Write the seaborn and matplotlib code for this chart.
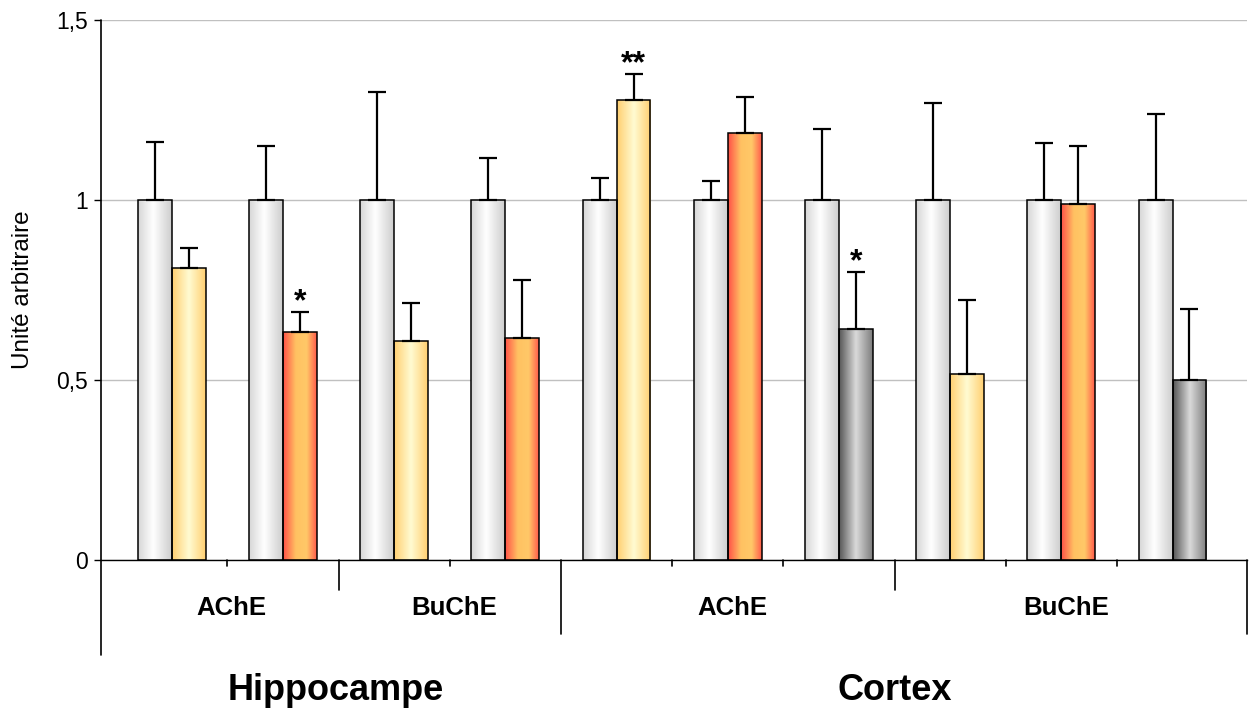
import numpy as np
import pandas as pd
import matplotlib
matplotlib.use('Agg')
import matplotlib.pyplot as plt
from matplotlib.colors import LinearSegmentedColormap
import seaborn as sns

# ------------------------------
# Données
# ------------------------------
regions = ['Hippocampe'] * 4 + ['Cortex'] * 6
enzymes = ['AChE', 'AChE', 'BuChE', 'BuChE',
           'AChE', 'AChE', 'AChE', 'BuChE', 'BuChE', 'BuChE']
traitements = ['jaune', 'rouge', 'jaune', 'rouge',
               'jaune', 'rouge', 'gris', 'jaune', 'rouge', 'gris']
temoin_moy = [1, 1, 1, 1, 1, 1, 1, 1, 1, 1]
temoin_err = [0.16, 0.15, 0.30, 0.117, 0.061, 0.053, 0.197, 0.269, 0.158, 0.239]
traite_moy = [0.811, 0.633, 0.608, 0.617, 1.278, 1.186, 0.642, 0.517, 0.989, 0.50]
traite_err = [0.056, 0.056, 0.106, 0.161, 0.072, 0.10, 0.158, 0.205, 0.161, 0.197]
etoiles = ['', '*', '', '', '**', '', '*', '', '', '']

paires = [f'p{i}' for i in range(len(regions))]
df = pd.DataFrame({
    'paire': paires * 2,
    'groupe': ['Témoin'] * len(paires) + ['Traité'] * len(paires),
    'valeur': temoin_moy + traite_moy,
})

# dégradés façon Excel
CMAPS = {
    'temoin': LinearSegmentedColormap.from_list(
        't', [(0, '#d6d6d6'), (0.45, '#ffffff'), (1, '#cdcdcd')]),
    'jaune': LinearSegmentedColormap.from_list(
        'j', [(0, '#ffcf70'), (0.5, '#fffbd2'), (1, '#ffcf70')]),
    'rouge': LinearSegmentedColormap.from_list(
        'r', [(0, '#ff5048'), (0.38, '#ffc262'), (0.7, '#ffc868'), (1, '#ff5a4a')]),
    'gris': LinearSegmentedColormap.from_list(
        'g', [(0, '#555555'), (0.5, '#dadada'), (1, '#7c7c7c')]),
}

sns.set_style('white')
plt.rcParams['font.family'] = ['Liberation Sans', 'DejaVu Sans']
plt.rcParams['text.color'] = 'black'
plt.rcParams['axes.labelcolor'] = 'black'
plt.rcParams['ytick.color'] = 'black'

fig = plt.figure(figsize=(12.49, 7.13), dpi=100)
ax = fig.add_axes([0.0806, 0.2146, 0.9178, 0.7574])

sns.barplot(data=df, x='paire', y='valeur', hue='groupe', order=paires,
            width=0.61, edgecolor='black', linewidth=1.1, errorbar=None,
            legend=False, ax=ax)


def fill_gradient(bar, cmap):
    x0, y0 = bar.get_x(), bar.get_y()
    w, h = bar.get_width(), bar.get_height()
    grad = np.linspace(0, 1, 256).reshape(1, -1)
    im = ax.imshow(grad, cmap=cmap, aspect='auto', interpolation='bicubic',
                   extent=[x0, x0 + w, y0, y0 + h], zorder=2)
    im.set_clip_path(bar)
    bar.set_facecolor('none')
    bar.set_zorder(3)


bars_temoin = list(ax.containers[0])
bars_traite = list(ax.containers[1])

for bar in bars_temoin:
    fill_gradient(bar, CMAPS['temoin'])
for bar, t in zip(bars_traite, traitements):
    fill_gradient(bar, CMAPS[t])

# barres d'erreur (vers le haut seulement)
for bars, moy, err in [(bars_temoin, temoin_moy, temoin_err),
                       (bars_traite, traite_moy, traite_err)]:
    xs = [b.get_x() + b.get_width() / 2 for b in bars]
    ax.errorbar(xs, moy, yerr=[np.zeros(len(err)), err], fmt='none',
                ecolor='black', elinewidth=1.6, capsize=6.5, capthick=1.6,
                zorder=4)

# étoiles de significativité
for bar, m, e, s in zip(bars_traite, traite_moy, traite_err, etoiles):
    if s:
        ax.text(bar.get_x() + bar.get_width() / 2, m + e + 0.004, s,
                ha='center', va='baseline', fontsize=23, fontweight='bold',
                zorder=5)

# axes
XMIN, XMAX = -0.64, 9.67
ax.set_xlim(XMIN, XMAX)
ax.set_ylim(0, 1.5)
ax.set_yticks([0, 0.5, 1, 1.5])
ax.set_yticklabels(['0', '0,5', '1', '1,5'], fontsize=16.5)
ax.tick_params(axis='y', direction='out', length=5, width=1, pad=4,
               left=True, colors='black')
ax.set_xticks([])
ax.set_xlabel('')
ax.set_ylabel('Unité arbitraire', fontsize=17.5)
ax.yaxis.set_label_coords(-0.058, 0.5)

ax.set_axisbelow(True)
ax.yaxis.grid(True, color='#c0c0c0', linewidth=1)
for side in ['top', 'right', 'left']:
    ax.spines[side].set_visible(False)
ax.spines['bottom'].set_color('black')
ax.spines['bottom'].set_linewidth(1)

trans = ax.get_xaxis_transform()
# axe vertical gauche prolongé sous l'axe des x
ax.plot([XMIN, XMIN], [-0.176, 1.0], transform=trans, color='black',
        lw=1.2, clip_on=False, zorder=6)
ax.plot([XMAX, XMAX], [-0.137, 0.0], transform=trans, color='black',
        lw=1.2, clip_on=False, zorder=6)

# séparateurs des catégories
for i in range(len(paires) - 1):
    if regions[i] != regions[i + 1]:
        y_bas = -0.137
    elif enzymes[i] != enzymes[i + 1]:
        y_bas = -0.056
    else:
        y_bas = -0.012
    ax.plot([i + 0.5, i + 0.5], [y_bas, 0], transform=trans, color='black',
            lw=1.2, clip_on=False)

# étiquettes d'enzyme
debut = 0
for i in range(1, len(paires) + 1):
    if i == len(paires) or enzymes[i] != enzymes[debut] or regions[i] != regions[debut]:
        centre = (debut + i - 1) / 2
        ax.text(centre + 0.04, -0.089, enzymes[debut], transform=trans,
                ha='center', va='center', fontsize=18.5, fontweight='bold')
        debut = i

# étiquettes de région
bornes = [XMIN]
for i in range(len(paires) - 1):
    if regions[i] != regions[i + 1]:
        bornes.append(i + 0.5)
bornes.append(XMAX)
noms_regions = list(dict.fromkeys(regions))
decalage = {'Hippocampe': 0.04, 'Cortex': -0.08}
for nom, g, d in zip(noms_regions, bornes[:-1], bornes[1:]):
    ax.text((g + d) / 2 + decalage[nom], -0.241, nom, transform=trans,
            ha='center', va='center', fontsize=26, fontweight='bold')

fig.savefig('out.png', dpi=100, facecolor='white')
plt.close(fig)
